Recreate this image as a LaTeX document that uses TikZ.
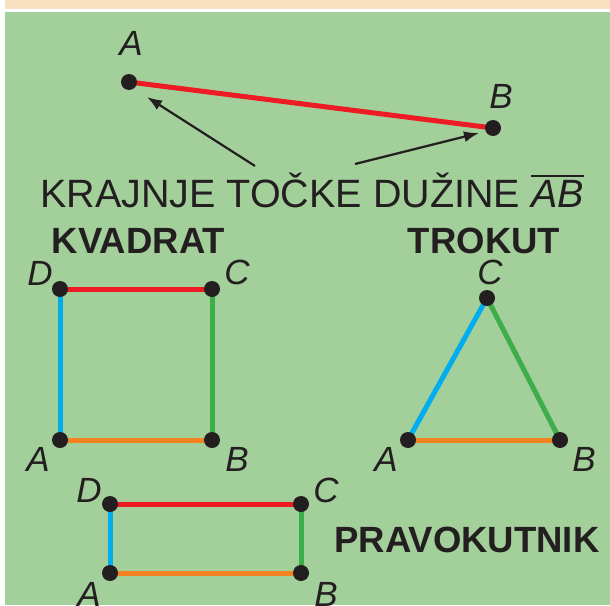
\documentclass[tikz,border=0pt]{standalone}
\usepackage{fontspec}
\setmainfont{Liberation Sans}
\usetikzlibrary{arrows.meta}
\definecolor{bgGreen}{HTML}{A3CF9B}
\definecolor{bgBeige}{HTML}{F8DFC0}
\definecolor{segRed}{HTML}{ED1C24}
\definecolor{segBlue}{HTML}{00AEEF}
\definecolor{segGreen}{HTML}{3DAE49}
\definecolor{segOrange}{HTML}{F58220}
\definecolor{inkBlack}{HTML}{231F20}
\tikzset{
  dotnode/.style={circle,fill=inkBlack,minimum size=16pt,inner sep=0pt},
  ptlabel/.style={inner sep=0pt,text=inkBlack,font=\fontsize{35}{38}\selectfont\itshape},
  titletext/.style={inner sep=0pt,anchor=base,text=inkBlack,font=\fontsize{36.5}{40}\selectfont\bfseries},
  edge/.style={line width=5pt},
  pointer/.style={line width=2.2pt,draw=inkBlack,-{Latex[length=15pt,width=11pt]}},
}
\begin{document}
\begin{tikzpicture}[x=1pt,y=-1pt]
\useasboundingbox (0,0) rectangle (610,605);
\fill[white] (0,0) rectangle (610,605);
\fill[bgBeige] (5,0) rectangle (610,9);
\fill[bgGreen] (5,12) rectangle (610,605);

% --- segment AB ---
\coordinate (pA) at (129,82);
\coordinate (pB) at (493,128);
\draw[edge,segRed] (pA) -- (pB);
\node[dotnode] (dA) at (pA) {};
\node[dotnode] (dB) at (pB) {};
\node[ptlabel] (lA) at (131,43) {A};
\node[ptlabel] (lB) at (501,96) {B};

\node[inner sep=0pt,anchor=base west,text=inkBlack,font=\fontsize{39.5}{42}\selectfont] (caption) at (40,207)
  {KRAJNJE TOČKE DUŽINE \leavevmode\vbox{\hrule height 2.2pt\kern 3pt\hbox{\itshape AB}}};
\coordinate (t1) at (255,166);
\coordinate (h1) at (147,97);
\coordinate (t2) at (355,164);
\coordinate (h2) at (479,133);
\draw[pointer] (t1) -- (h1);
\draw[pointer] (t2) -- (h2);

% --- titles ---
\node[titletext] (kv) at (138.5,253) {KVADRAT};
\node[titletext] (tr) at (484,253) {TROKUT};
\node[titletext] (pr) at (467,552) {PRAVOKUTNIK};

% --- square ---
\coordinate (sA) at (60,440);
\coordinate (sB) at (212,440);
\coordinate (sC) at (212,289);
\coordinate (sD) at (60,289);
\draw[edge,segRed] (sD) -- (sC);
\draw[edge,segBlue] (sA) -- (sD);
\draw[edge,segGreen] (sB) -- (sC);
\draw[edge,segOrange] (sA) -- (sB);
\node[dotnode] (dsA) at (sA) {};
\node[dotnode] (dsB) at (sB) {};
\node[dotnode] (dsC) at (sC) {};
\node[dotnode] (dsD) at (sD) {};
\node[ptlabel] (lsA) at (38,459) {A};
\node[ptlabel] (lsB) at (237,459) {B};
\node[ptlabel] (lsC) at (237,272) {C};
\node[ptlabel] (lsD) at (40,273) {D};

% --- triangle ---
\coordinate (tA) at (408,440);
\coordinate (tB) at (560,440);
\coordinate (tC) at (487,298);
\draw[edge,segBlue] (tA) -- (tC);
\draw[edge,segGreen] (tB) -- (tC);
\draw[edge,segOrange] (tA) -- (tB);
\node[dotnode] (dtA) at (tA) {};
\node[dotnode] (dtB) at (tB) {};
\node[dotnode] (dtC) at (tC) {};
\node[ptlabel] (ltA) at (386,459) {A};
\node[ptlabel] (ltB) at (584,459) {B};
\node[ptlabel] (ltC) at (490,272) {C};

% --- rectangle ---
\coordinate (rA) at (110,573);
\coordinate (rB) at (301,573);
\coordinate (rC) at (301,504);
\coordinate (rD) at (110,504);
\draw[edge,segRed] (rD) -- (rC);
\draw[edge,segBlue] (rA) -- (rD);
\draw[edge,segGreen] (rB) -- (rC);
\draw[edge,segOrange] (rA) -- (rB);
\node[dotnode] (drA) at (rA) {};
\node[dotnode] (drB) at (rB) {};
\node[dotnode] (drC) at (rC) {};
\node[dotnode] (drD) at (rD) {};
\node[ptlabel] (lrA) at (89,594) {A};
\node[ptlabel] (lrB) at (326,594) {B};
\node[ptlabel] (lrC) at (326,490) {C};
\node[ptlabel] (lrD) at (89,490) {D};
\end{tikzpicture}
\end{document}
